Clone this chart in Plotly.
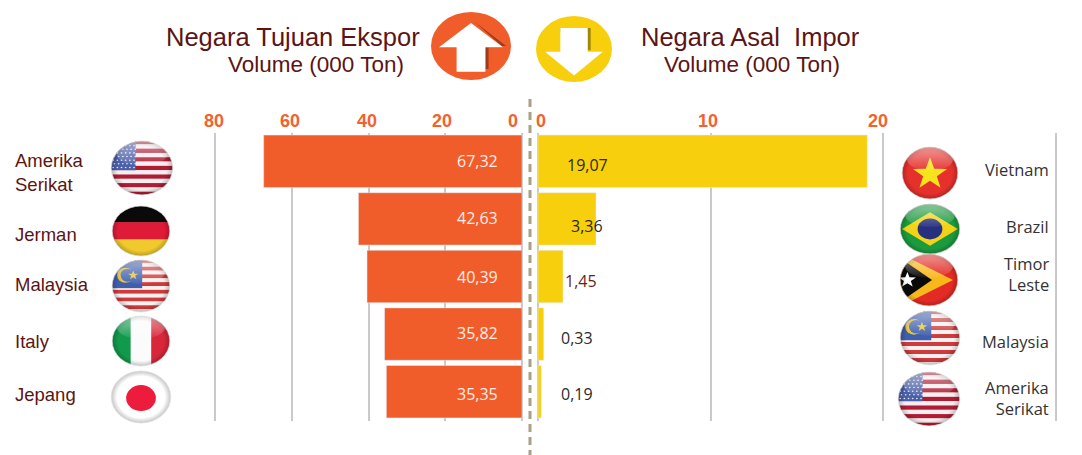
import base64
import math
import plotly.graph_objects as go

# the page adds an 8px body margin, so the figure is sized and placed to allow for it
PAGE_W, PAGE_H, OFF = 1082, 455, 8
W, H = PAGE_W - OFF, PAGE_H - OFF

export_countries = ["Amerika<br>Serikat", "Jerman", "Malaysia", "Italy", "Jepang"]
export_values = [67.32, 42.63, 40.39, 35.82, 35.35]
export_labels = ["67,32", "42,63", "40,39", "35,82", "35,35"]
import_countries = ["Vietnam", "Brazil", "Timor<br>Leste", "Malaysia", "Amerika<br>Serikat"]
import_values = [19.07, 3.36, 1.45, 0.33, 0.19]
import_labels = ["19,07", "3,36", "1,45", "0,33", "0,19"]
export_ticks = [80, 60, 40, 20, 0]
import_ticks = [0, 10, 20, 30]
import_tick_labels = ["0", "10", "20", ""]

ORANGE = "#f15d2a"
YELLOW = "#f8cf0c"
MAROON = "#5c1414"
GRID = "#c9c9c9"
TICK = "#f2622f"


def px(x):
    return (x - OFF) / W


def py(y):
    return 1 - (y - OFF) / H


def star(cx, cy, r, fill):
    pts = []
    for i in range(10):
        rr = r if i % 2 == 0 else r * 0.4
        a = -math.pi / 2 + i * math.pi / 5
        pts.append(f"{cx + rr * math.cos(a):.1f},{cy + rr * math.sin(a):.1f}")
    return f'<polygon points="{" ".join(pts)}" fill="{fill}"/>'


def stripes(n, c1, c2):
    h = 100 / n
    s = ""
    for i in range(n):
        s += f'<rect x="0" y="{i * h:.2f}" width="100" height="{h + 0.2:.2f}" fill="{c1 if i % 2 == 0 else c2}"/>'
    return s


def flag_us():
    s = stripes(13, "#b01c34", "#f4eef0")
    s += '<rect x="0" y="0" width="40" height="54" fill="#4a5fa8"/>'
    for r in range(7):
        for c in range(6):
            s += f'<circle cx="{5 + c * 6.5 + (r % 2) * 2}" cy="{10 + r * 6.5}" r="1.4" fill="#dfe4f4"/>'
    return s


def flag_my():
    s = stripes(14, "#cf3a3a", "#f6f0f0")
    s += '<rect x="0" y="0" width="52" height="54" fill="#3f5fae"/>'
    s += '<circle cx="24" cy="30" r="14" fill="#e8c33a"/><circle cx="28" cy="30" r="12" fill="#3f5fae"/>'
    s += star(37, 30, 9, "#e8c33a")
    return s


def flag_de():
    return ('<rect width="100" height="34" fill="#0a0a0a"/>'
            '<rect y="33" width="100" height="34" fill="#e01b38"/>'
            '<rect y="66" width="100" height="34" fill="#f0c92c"/>')


def flag_it():
    return ('<rect width="33" height="100" fill="#119a4c"/>'
            '<rect x="33" width="34" height="100" fill="#fbfbfb"/>'
            '<rect x="67" width="33" height="100" fill="#d8263a"/>')


def flag_jp():
    return '<rect width="100" height="100" fill="#ffffff"/><circle cx="50" cy="52" r="24" fill="#ee1c3c"/>'


def flag_vn():
    return '<rect width="100" height="100" fill="#e5302c"/>' + star(50, 52, 31, "#f6e31c")


def flag_br():
    return ('<rect width="100" height="100" fill="#1c9a3e"/>'
            '<polygon points="5,50 50,18 95,50 50,82" fill="#f2d318"/>'
            '<circle cx="50" cy="50" r="20" fill="#26307e"/>')


def flag_tl():
    return ('<rect width="100" height="100" fill="#e32a24"/>'
            '<polygon points="0,0 90,50 0,100" fill="#f8b81c"/>'
            '<polygon points="0,8 55,50 0,92" fill="#0a0a0a"/>'
            + star(14, 50, 15, "#ffffff"))


def circle_svg(content, ring="#d8d8d8", gloss=True):
    g = ""
    if gloss:
        g = '<ellipse cx="50" cy="24" rx="40" ry="22" fill="url(#gl)"/>'
    svg = ('<svg xmlns="http://www.w3.org/2000/svg" width="200" height="200" viewBox="0 0 100 100" preserveAspectRatio="none">'
           '<defs><clipPath id="c"><circle cx="50" cy="50" r="48"/></clipPath>'
           '<linearGradient id="gl" x1="0" y1="0" x2="0" y2="1"><stop offset="0" stop-color="#fff" stop-opacity="0.5"/>'
           '<stop offset="1" stop-color="#fff" stop-opacity="0.05"/></linearGradient>'
           '<radialGradient id="sh" cx="0.5" cy="0.5" r="0.5"><stop offset="0.8" stop-color="#000" stop-opacity="0"/>'
           '<stop offset="1" stop-color="#000" stop-opacity="0.22"/></radialGradient></defs>'
           f'<g clip-path="url(#c)">{content}<circle cx="50" cy="50" r="48" fill="url(#sh)"/>{g}</g>'
           f'<circle cx="50" cy="50" r="48" fill="none" stroke="{ring}" stroke-width="1.2"/></svg>')
    return "data:image/svg+xml;base64," + base64.b64encode(svg.encode()).decode()


def arrow_svg(color, up):
    if up:
        pts = "50,16 90,52 68,52 68,88 32,88 32,52 10,52"
        shadow = "54,14 94,50 72,50 72,84 68,84 68,52 90,52"
    else:
        pts = "32,18 68,18 68,54 88,54 50,90 12,54 32,54"
        shadow = "32,18 72,18 72,52 68,52 68,24 32,24"
    svg = ('<svg xmlns="http://www.w3.org/2000/svg" width="200" height="200" viewBox="0 0 100 100" preserveAspectRatio="none">'
           f'<ellipse cx="50" cy="50" rx="50" ry="50" fill="{color}"/>'
           f'<polygon points="{shadow}" fill="#000" fill-opacity="0.35"/>'
           f'<polygon points="{pts}" fill="#fff"/></svg>')
    return "data:image/svg+xml;base64," + base64.b64encode(svg.encode()).decode()


def image(src, cx, cy, rx, ry):
    return dict(source=src, xref="paper", yref="paper", x=px(cx - rx), y=py(cy - ry),
                sizex=2 * rx / W, sizey=2 * ry / H, sizing="stretch",
                xanchor="left", yanchor="top", layer="above")


fig = go.Figure()
fig.add_bar(x=export_values, y=export_countries, orientation="h", marker_color=ORANGE,
            width=0.91, xaxis="x", yaxis="y", showlegend=False, hoverinfo="x+y")
fig.add_bar(x=import_values, y=import_countries, orientation="h", marker_color=YELLOW,
            width=0.91, xaxis="x2", yaxis="y2", showlegend=False, hoverinfo="x+y")

annotations = []


def text(x, y, s, size, color, family="Liberation Sans", anchor="center", bold=False, xref="paper", yref="paper", xshift=0, yshift=0, align="center"):
    annotations.append(dict(x=x, y=y, text=f"<b>{s}</b>" if bold else s, xref=xref, yref=yref,
                            xanchor=anchor, yanchor="middle", showarrow=False, xshift=xshift, yshift=yshift,
                            align=align, font=dict(size=size, color=color, family=family)))


# headings
text(px(293), py(37), "Negara Tujuan Ekspor", 25.5, MAROON)
text(px(316), py(64), "Volume (000 Ton)", 22.5, MAROON)
text(px(750), py(37), "Negara Asal&nbsp;&nbsp;Impor", 25.5, MAROON)
text(px(752), py(64), "Volume (000 Ton)", 22.5, MAROON)

# tick labels
export_tick_shift = [-1, -2, -2, -3, -9]
import_tick_shift = [3, -3, -5, 0]
for t, sh in zip(export_ticks, export_tick_shift):
    text(t, py(121), str(t), 18, TICK, bold=True, xref="x", xshift=sh)
for t, lab, sh in zip(import_ticks, import_tick_labels, import_tick_shift):
    if lab:
        text(t, py(121), lab, 18, TICK, bold=True, xref="x2", xshift=sh)

# value labels
export_y_shift = [0, -1, 0, -1, 2]
for c, lab, ys in zip(export_countries, export_labels, export_y_shift):
    text(0, c, lab, 16, "#fdeee8", family="Open Sans", anchor="right", xref="x", yref="y", xshift=-22, yshift=-ys)
import_x = [27, 31, 25, 21, 21]
import_y_shift = [4, 7, 4, 4, 2]
import_colors = ["#2a2a1a", "#2a2a1a", "#6a1c1c", "#2a2a2a", "#2a2a2a"]
for c, lab, xs, ys, col in zip(import_countries, import_labels, import_x, import_y_shift, import_colors):
    text(0, c, lab, 16, col, family="Open Sans", anchor="left", xref="x2", yref="y2", xshift=xs, yshift=-ys)

# category labels
left_y = [172, 234, 284, 341, 394]
for c, yy in zip(export_countries, left_y):
    text(px(12.5), py(yy), c, 18.5, MAROON, anchor="left", align="left")
right_y = [169, 226, 274, 341, 398]
for c, yy in zip(import_countries, right_y):
    text(px(1051), py(yy), c, 16.5, "#333333", family="Open Sans", anchor="right", align="right")

images = [
    image(arrow_svg(ORANGE, True), 471, 46, 40, 34),
    image(arrow_svg(YELLOW, False), 574, 49, 38, 33),
    image(circle_svg(flag_us()), 142, 168, 32, 28),
    image(circle_svg(flag_de(), gloss=False), 141, 231, 30, 26),
    image(circle_svg(flag_my()), 141, 286, 30, 27),
    image(circle_svg(flag_it()), 141, 341, 30, 26),
    image(circle_svg(flag_jp(), gloss=False), 141, 397, 31, 27),
    image(circle_svg(flag_vn()), 930, 173, 29, 27),
    image(circle_svg(flag_br()), 930, 229, 31, 26),
    image(circle_svg(flag_tl()), 929, 280, 30, 27),
    image(circle_svg(flag_my()), 930, 338, 31, 28),
    image(circle_svg(flag_us()), 929, 399, 32, 28),
]

shapes = [dict(type="line", xref="paper", yref="paper", x0=px(530), x1=px(530), y0=py(99), y1=py(455),
               line=dict(color="#a9a184", width=3, dash="8px,5px"), layer="above")]

# the ranges run a little past the end ticks so that their gridlines are drawn
L_UNIT = 307 / 80
R_UNIT = 518 / 30
L_PAD, R_PAD = 0.5, 0.2

fig.update_layout(
    width=W, height=H, autosize=False,
    margin=dict(l=0, r=0, t=0, b=0),
    paper_bgcolor="white", plot_bgcolor="white",
    barmode="overlay",
    annotations=annotations, images=images, shapes=shapes,
    xaxis=dict(domain=[px(215 - L_PAD * L_UNIT), px(522 + L_PAD * L_UNIT)], range=[80 + L_PAD, -L_PAD],
               tickvals=export_ticks, showticklabels=False,
               showgrid=True, gridcolor=GRID, gridwidth=1.5, zeroline=False, showline=False, anchor="y"),
    xaxis2=dict(domain=[px(538 - R_PAD * R_UNIT), px(1056 + R_PAD * R_UNIT)], range=[-R_PAD, 30 + R_PAD],
                tickvals=import_ticks, showticklabels=False,
                showgrid=True, gridcolor=GRID, gridwidth=1.5, zeroline=False, showline=False, anchor="y2"),
    yaxis=dict(domain=[py(420.5), py(132.5)], categoryorder="array", categoryarray=export_countries,
               autorange="reversed", showticklabels=False, showgrid=False, zeroline=False, anchor="x"),
    yaxis2=dict(domain=[py(420.5), py(132.5)], categoryorder="array", categoryarray=import_countries,
                autorange="reversed", showticklabels=False, showgrid=False, zeroline=False, anchor="x2"),
)
fig.write_html("out.html")
